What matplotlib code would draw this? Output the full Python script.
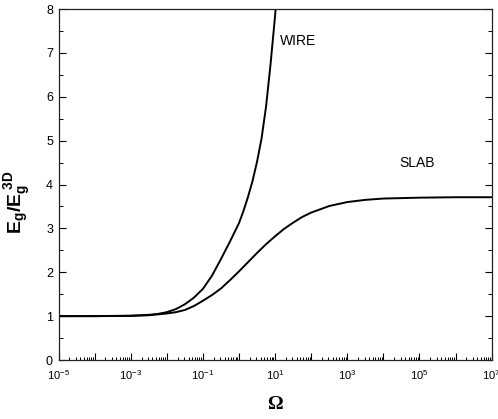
import numpy as np
import matplotlib
matplotlib.use("Agg")
import matplotlib.pyplot as plt
from matplotlib.ticker import LogLocator, FixedLocator, NullFormatter, FuncFormatter

# log10(Omega) sample positions and read-off values
wire_logx = [-5, -4, -3, -2.5, -2.25, -2, -1.75, -1.5, -1.25, -1, -0.75, -0.5,
             -0.25, 0, 0.125, 0.25, 0.375, 0.5, 0.625, 0.75, 0.875, 1.0, 1.05]
wire_y = [1.00, 1.00, 1.01, 1.03, 1.05, 1.09, 1.16, 1.27, 1.42, 1.62, 1.92, 2.30,
          2.70, 3.12, 3.40, 3.72, 4.08, 4.52, 5.05, 5.78, 6.75, 7.85, 8.35]

slab_logx = [-5, -4, -3, -2.5, -2.25, -2, -1.75, -1.5, -1.25, -1, -0.75, -0.5,
             -0.25, 0, 0.25, 0.5, 0.75, 1.0, 1.25, 1.5, 1.75, 2, 2.5, 3, 3.5,
             4, 5, 6, 7]
slab_y = [1.0, 1.0, 1.005, 1.02, 1.04, 1.06, 1.09, 1.14, 1.23, 1.35, 1.48, 1.63,
          1.82, 2.02, 2.23, 2.44, 2.64, 2.82, 2.99, 3.13, 3.26, 3.36, 3.51, 3.60,
          3.65, 3.68, 3.70, 3.71, 3.71]

x_tick_exps = [-5, -3, -1, 1, 3, 5, 7]
y_ticks = [0, 1, 2, 3, 4, 5, 6, 7, 8]

plt.rcParams['font.family'] = ['Liberation Sans', 'DejaVu Sans']
plt.rcParams['mathtext.fontset'] = 'custom'
plt.rcParams['mathtext.rm'] = 'Liberation Sans'
plt.rcParams['mathtext.it'] = 'Liberation Sans'
plt.rcParams['mathtext.bf'] = 'Liberation Sans:bold'

fig = plt.figure(figsize=(4.98, 4.19), dpi=100)
ax = fig.add_axes([0.1175, 0.1408, 0.8698, 0.8377])

ax.plot(10.0 ** np.array(wire_logx), wire_y, color='black', lw=1.4)
ax.plot(10.0 ** np.array(slab_logx), slab_y, color='black', lw=1.4)

ax.set_xscale('log')
ax.set_xlim(1e-5, 1e7)
ax.set_ylim(0, 8)

ax.xaxis.set_major_locator(FixedLocator([10.0 ** e for e in range(-5, 8)]))
ax.xaxis.set_minor_locator(LogLocator(base=10, subs=np.arange(2, 10), numticks=100))
ax.xaxis.set_minor_formatter(NullFormatter())
def xfmt(v, pos):
    e = int(round(np.log10(v)))
    if e in x_tick_exps:
        return r'$\mathregular{10^{%d}}$' % e
    return ''
ax.xaxis.set_major_formatter(FuncFormatter(xfmt))

ax.set_yticks(y_ticks)
ax.set_yticks(np.arange(0.5, 8, 1.0), minor=True)

ax.tick_params(axis='x', which='major', direction='in', length=5, width=0.8,
               labelsize=8, pad=6, top=False, bottom=True)
ax.tick_params(axis='x', which='minor', direction='in', length=2.5, width=0.7,
               top=False, bottom=True)
ax.tick_params(axis='y', which='major', direction='in', length=5, width=0.8,
               labelsize=9, left=True, right=True, pad=4)
ax.tick_params(axis='y', which='minor', direction='in', length=3, width=0.7,
               left=True, right=True)

for s in ax.spines.values():
    s.set_linewidth(0.9)
    s.set_color('#222222')

ax.text(10 ** 1.13, 7.27, 'WIRE', fontsize=10, va='center', ha='left')
ax.text(10 ** 4.45, 4.5, 'SLAB', fontsize=10, va='center', ha='left')

ax.set_ylabel(r'$\mathbf{E_g/E_g^{\ 3D}}$', fontsize=14)
ax.yaxis.set_label_coords(-0.058, 0.45)
ax.set_xlabel('Ω', fontsize=14, fontweight='bold', family=['Liberation Serif'], labelpad=10)

fig.savefig('out.png', dpi=100)
